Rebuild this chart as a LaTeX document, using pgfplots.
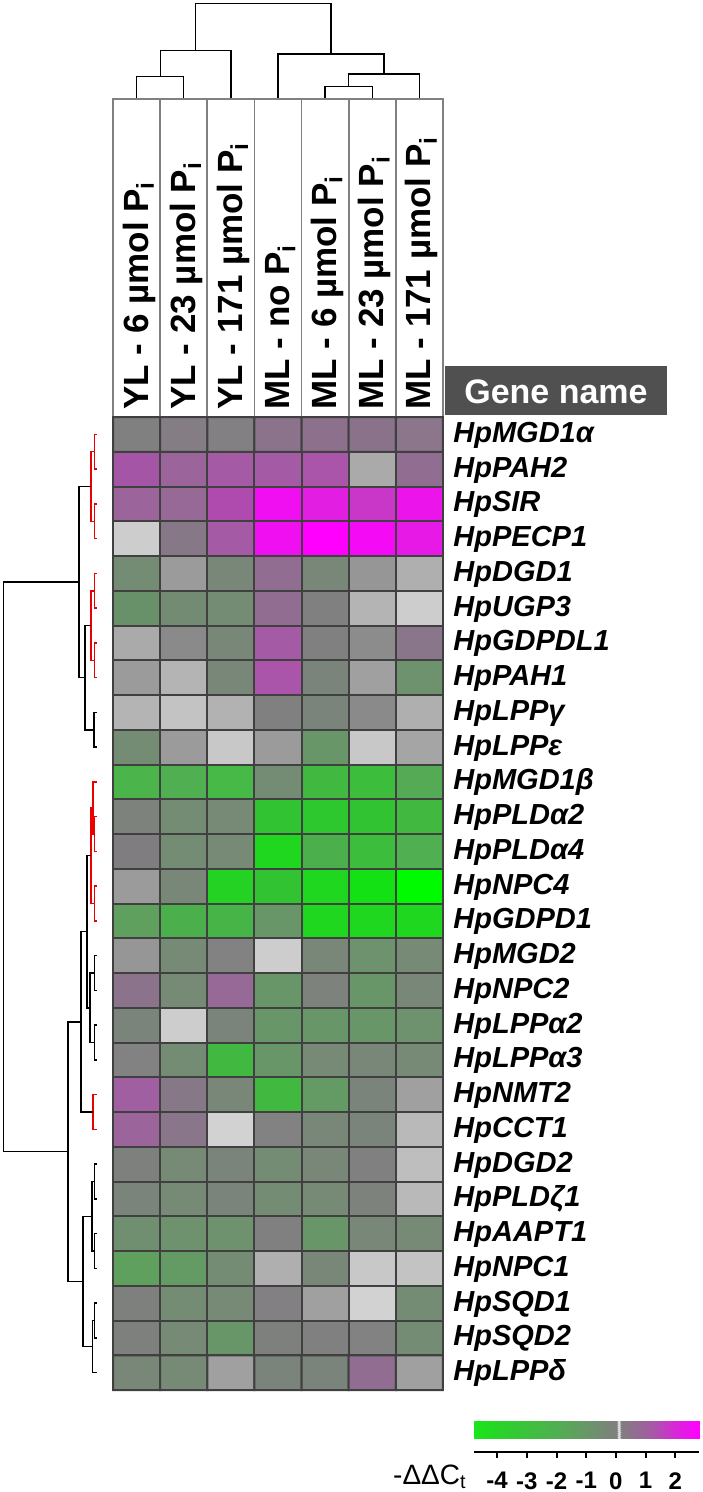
\documentclass[border=0pt]{standalone}
\usepackage{pgfplots}
\pgfplotsset{compat=1.18}
\usepackage{pgfplotstable}
\usepackage{fontspec}
\setmainfont{Liberation Sans}

\definecolor{gridc}{RGB}{64,64,64}
\definecolor{headc}{RGB}{128,128,128}
\definecolor{genebox}{RGB}{80,80,80}
\definecolor{denred}{RGB}{235,0,0}

% cell colours, columns: YL6 YL23 YL171 MLno ML6 ML23 ML171
\pgfplotstableread{
x y r g b
0 0 128 128 128
1 0 132 125 132
2 0 130 128 130
3 0 140 115 140
4 0 140 112 140
5 0 138 115 138
6 0 140 118 140
0 1 165 85 165
1 1 155 100 155
2 1 165 90 165
3 1 165 90 165
4 1 170 85 170
5 1 170 170 170
6 1 145 110 145
0 2 155 100 155
1 2 150 105 150
2 2 175 75 175
3 2 240 15 240
4 2 225 30 225
5 2 200 55 200
6 2 235 20 235
0 3 205 205 205
1 3 135 120 135
2 3 165 90 165
3 3 240 15 240
4 3 255 0 255
5 3 245 10 245
6 3 230 25 230
0 4 115 140 115
1 4 155 155 155
2 4 120 135 120
3 4 145 110 145
4 4 120 135 120
5 4 150 150 150
6 4 175 175 175
0 5 105 145 105
1 5 115 138 115
2 5 115 140 115
3 5 145 110 145
4 5 128 128 128
5 5 180 180 180
6 5 205 205 205
0 6 170 170 170
1 6 138 138 138
2 6 120 135 120
3 6 165 90 165
4 6 128 128 128
5 6 140 140 140
6 6 138 118 138
0 7 155 155 155
1 7 180 180 180
2 7 120 135 120
3 7 170 85 170
4 7 122 132 122
5 7 160 160 160
6 7 110 145 110
0 8 180 180 180
1 8 195 195 195
2 8 178 178 178
3 8 128 128 128
4 8 122 132 122
5 8 138 138 138
6 8 175 175 175
0 9 115 140 115
1 9 155 155 155
2 9 200 200 200
3 9 155 155 155
4 9 105 150 105
5 9 200 200 200
6 9 165 165 165
0 10 75 180 75
1 10 80 175 80
2 10 70 185 70
3 10 115 140 115
4 10 65 185 65
5 10 60 190 60
6 10 85 170 85
0 11 125 130 125
1 11 115 140 115
2 11 118 138 118
3 11 50 195 50
4 11 45 200 45
5 11 50 195 50
6 11 65 185 65
0 12 128 125 128
1 12 115 140 115
2 12 118 138 118
3 12 30 215 30
4 12 75 175 75
5 12 60 190 60
6 12 80 175 80
0 13 155 155 155
1 13 120 135 120
2 13 35 210 35
3 13 50 195 50
4 13 30 215 30
5 13 20 225 20
6 13 0 250 0
0 14 95 160 95
1 14 75 175 75
2 14 70 180 70
3 14 105 150 105
4 14 30 215 30
5 14 30 215 30
6 14 30 215 30
0 15 150 150 150
1 15 118 138 118
2 15 130 130 130
3 15 205 205 205
4 15 120 135 120
5 15 110 145 110
6 15 118 138 118
0 16 140 115 140
1 16 118 138 118
2 16 150 105 150
3 16 105 150 105
4 16 125 130 125
5 16 105 150 105
6 16 120 135 120
0 17 122 132 122
1 17 205 205 205
2 17 122 132 122
3 17 105 150 105
4 17 105 150 105
5 17 105 150 105
6 17 110 145 110
0 18 130 130 130
1 18 115 140 115
2 18 65 185 65
3 18 105 150 105
4 18 118 138 118
5 18 120 135 120
6 18 118 138 118
0 19 160 95 160
1 19 135 120 135
2 19 120 135 120
3 19 65 185 65
4 19 100 155 100
5 19 122 132 122
6 19 160 160 160
0 20 155 100 155
1 20 138 118 138
2 20 210 210 210
3 20 130 130 130
4 20 120 135 120
5 20 122 132 122
6 20 185 185 185
0 21 125 128 125
1 21 118 138 118
2 21 122 132 122
3 21 115 140 115
4 21 120 135 120
5 21 128 128 128
6 21 190 190 190
0 22 122 132 122
1 22 118 138 118
2 22 122 132 122
3 22 115 140 115
4 22 118 138 118
5 22 125 130 125
6 22 185 185 185
0 23 112 142 112
1 23 110 145 110
2 23 110 145 110
3 23 128 128 128
4 23 105 150 105
5 23 120 135 120
6 23 118 138 118
0 24 95 160 95
1 24 100 155 100
2 24 115 140 115
3 24 175 175 175
4 24 120 135 120
5 24 200 200 200
6 24 195 195 195
0 25 125 128 125
1 25 115 140 115
2 25 118 138 118
3 25 130 128 130
4 25 160 160 160
5 25 210 210 210
6 25 115 140 115
0 26 125 128 125
1 26 118 138 118
2 26 105 150 105
3 26 125 128 125
4 26 128 128 128
5 26 130 130 130
6 26 115 140 115
0 27 120 135 120
1 27 118 138 118
2 27 160 160 160
3 27 122 132 122
4 27 122 132 122
5 27 145 110 145
6 27 160 160 160
}\heat

\tikzset{
  den/.style={black, line width=0.7pt, mark=none},
  denr/.style={denred, line width=0.7pt, mark=none},
}
% one dendrogram join: style, x_a, y_a, x_join, x_b, y_b
\newcommand\U[6]{\addplot[#1] coordinates {(#2,#3) (#4,#3) (#4,#6) (#5,#6)};}

\begin{document}
\begin{tikzpicture}
\useasboundingbox (0,0) rectangle (351pt,746pt);

% dendrograms, in pixel units of the page (y down)
\begin{axis}[at={(0pt,0pt)}, anchor=south west, scale only axis,
  width=351pt, height=746pt, xmin=0, xmax=702, ymin=0, ymax=1492,
  y dir=reverse, hide axis, clip=false]
% top (samples)
\addplot[den] coordinates {(136.6,99) (136.6,76.7) (183.7,76.7) (183.7,99)};
\addplot[den] coordinates {(160.2,76.7) (160.2,50.7) (230.9,50.7) (230.9,99)};
\addplot[den] coordinates {(325.1,99) (325.1,86.7) (372.3,86.7) (372.3,99)};
\addplot[den] coordinates {(348.7,86.7) (348.7,74) (419.4,74) (419.4,99)};
\addplot[den] coordinates {(278,99) (278,54) (384,54) (384,74)};
\addplot[den] coordinates {(195.5,50.7) (195.5,3.5) (331,3.5) (331,54)};
% left (genes), red clusters
\U{denr}{97}{434.4}{94.5}{97}{469.1}
\U{denr}{97}{503.9}{94.5}{97}{538.6}
\U{denr}{94.5}{451.8}{91}{94.5}{521.3}
\U{denr}{97}{573.4}{94.5}{97}{608.1}
\U{denr}{97}{642.9}{94.5}{97}{677.6}
\U{denr}{94.5}{590.8}{91}{94.5}{660.3}
\U{denr}{97}{816.6}{94.5}{97}{851.4}
\U{denr}{97}{781.9}{93}{94.5}{834}
\U{denr}{97}{886.1}{94.5}{97}{920.9}
\U{denr}{93}{808}{91}{94.5}{903.5}
\U{denr}{97}{1094.6}{93}{97}{1129.4}
% left, black joins
\U{den}{97}{712.4}{94}{97}{747.1}
\U{den}{91}{625.5}{85}{94}{729.8}
\U{den}{91}{486.5}{79}{85}{677.6}
\U{den}{97}{955.6}{94.5}{97}{990.4}
\U{den}{97}{1025.1}{94.5}{97}{1059.9}
\U{den}{94.5}{973}{90}{94.5}{1042.5}
\U{den}{91}{855.7}{87}{90}{1007.8}
\U{den}{87}{931.7}{81}{93}{1112}
\U{den}{97}{1164.1}{94.5}{97}{1198.9}
\U{den}{97}{1233.6}{94.5}{97}{1268.4}
\U{den}{94.5}{1181.5}{92}{94.5}{1251}
\U{den}{97}{1303.1}{94.5}{97}{1337.9}
\U{den}{94.5}{1320.5}{92.5}{97}{1372.6}
\U{den}{92}{1216.3}{83}{92.5}{1346.6}
\U{den}{81}{1021.9}{68}{83}{1281.4}
\U{den}{79}{582}{3.5}{68}{1151.7}
\end{axis}

\begin{scope}[x=0.5pt, y=-0.5pt, yshift=746pt]
% header boxes
\draw[headc, line width=0.8pt] (113,99) rectangle (443,417);
\foreach \k in {1,...,6}
  \draw[headc, line width=0.8pt] ({113+47.143*\k},99) -- ({113+47.143*\k},417);
\foreach \t [count=\i from 0] in {%
  {YL - 6 µmol P\textsubscript{i}},
  {YL - 23 µmol P\textsubscript{i}},
  {YL - 171 µmol P\textsubscript{i}},
  {ML - no P\textsubscript{i}},
  {ML - 6 µmol P\textsubscript{i}},
  {ML - 23 µmol P\textsubscript{i}},
  {ML - 171 µmol P\textsubscript{i}}}
  \node[rotate=90, anchor=base west, inner sep=0pt,
        font=\bfseries\fontsize{17.5}{20}\selectfont]
    at ({113+47.143*(\i+0.5)+11.5},410) {\t};
% gene name box
\fill[genebox] (445,366) rectangle (667,415);
\node[white, anchor=base, inner sep=0pt, font=\bfseries\fontsize{17}{20}\selectfont]
  at (556,404) {Gene name};
\end{scope}

% heat map
\begin{axis}[at={(56.5pt,51pt)}, anchor=south west, scale only axis,
  width=165pt, height=486.5pt,
  xmin=-0.5, xmax=6.5, ymin=-0.5, ymax=27.5, y dir=reverse,
  hide axis, clip=false]
\addplot[matrix plot*, shader=faceted, faceted color=gridc, line width=1pt,
  mesh/cols=7, mesh/color input=explicit mathparse,
  point meta={symbolic={\thisrow{r}/255,\thisrow{g}/255,\thisrow{b}/255}}]
  table {\heat};
\end{axis}

% colour scale
\begin{axis}[at={(237pt,20pt)}, anchor=south west, scale only axis,
  width=112.5pt, height=15.5pt,
  xmin=-4.78, xmax=2.8, ymin=0, ymax=1,
  axis x line*=bottom, axis y line=none,
  x axis line style={line width=1pt, -},
  xtick={-4,-3,-2,-1,0,1,2}, xticklabels={-4,-3,-2,-1,0,1,2},
  tick align=outside, major tick length=3pt,
  xtick style={black, line width=1pt},
  xticklabel style={font=\bfseries\fontsize{12}{14}\selectfont, inner sep=0pt, yshift=-7pt},
  colormap={ddct}{rgb255(0pt)=(25,230,25) rgb255(78pt)=(40,212,40)
    rgb255(278pt)=(80,175,80) rgb255(378pt)=(105,150,105)
    rgb255(470pt)=(125,129,125) rgb255(480pt)=(128,128,128)
    rgb255(485pt)=(220,220,220) rgb255(489pt)=(220,220,220)
    rgb255(495pt)=(128,126,128) rgb255(598pt)=(165,90,165)
    rgb255(678pt)=(215,40,215) rgb255(758pt)=(255,0,255)},
  point meta min=-4.78, point meta max=2.8]
\addplot[surf, shader=interp, mesh/cols=2, point meta=x]
  coordinates {(-4.78,0.42) (2.8,0.42) (-4.78,1) (2.8,1)};
\end{axis}

\begin{scope}[x=0.5pt, y=-0.5pt, yshift=746pt]
\foreach \g [count=\i from 0] in {HpMGD1α, HpPAH2, HpSIR, HpPECP1, HpDGD1,
  HpUGP3, HpGDPDL1, HpPAH1, HpLPPγ, HpLPPε, HpMGD1β, HpPLDα2, HpPLDα4,
  HpNPC4, HpGDPD1, HpMGD2, HpNPC2, HpLPPα2, HpLPPα3, HpNMT2, HpCCT1,
  HpDGD2, HpPLDζ1, HpAAPT1, HpNPC1, HpSQD1, HpSQD2, HpLPPδ}
  \node[anchor=base west, inner sep=0pt,
        font=\bfseries\itshape\fontsize{14.5}{16}\selectfont]
    at (453,{417+34.75*(\i+0.5)+8}) {\g};
\node[anchor=base east, inner sep=0pt, font=\fontsize{14}{16}\selectfont]
  at (467,1484) {-ΔΔC\textsubscript{t}};
\end{scope}
\end{tikzpicture}
\end{document}
